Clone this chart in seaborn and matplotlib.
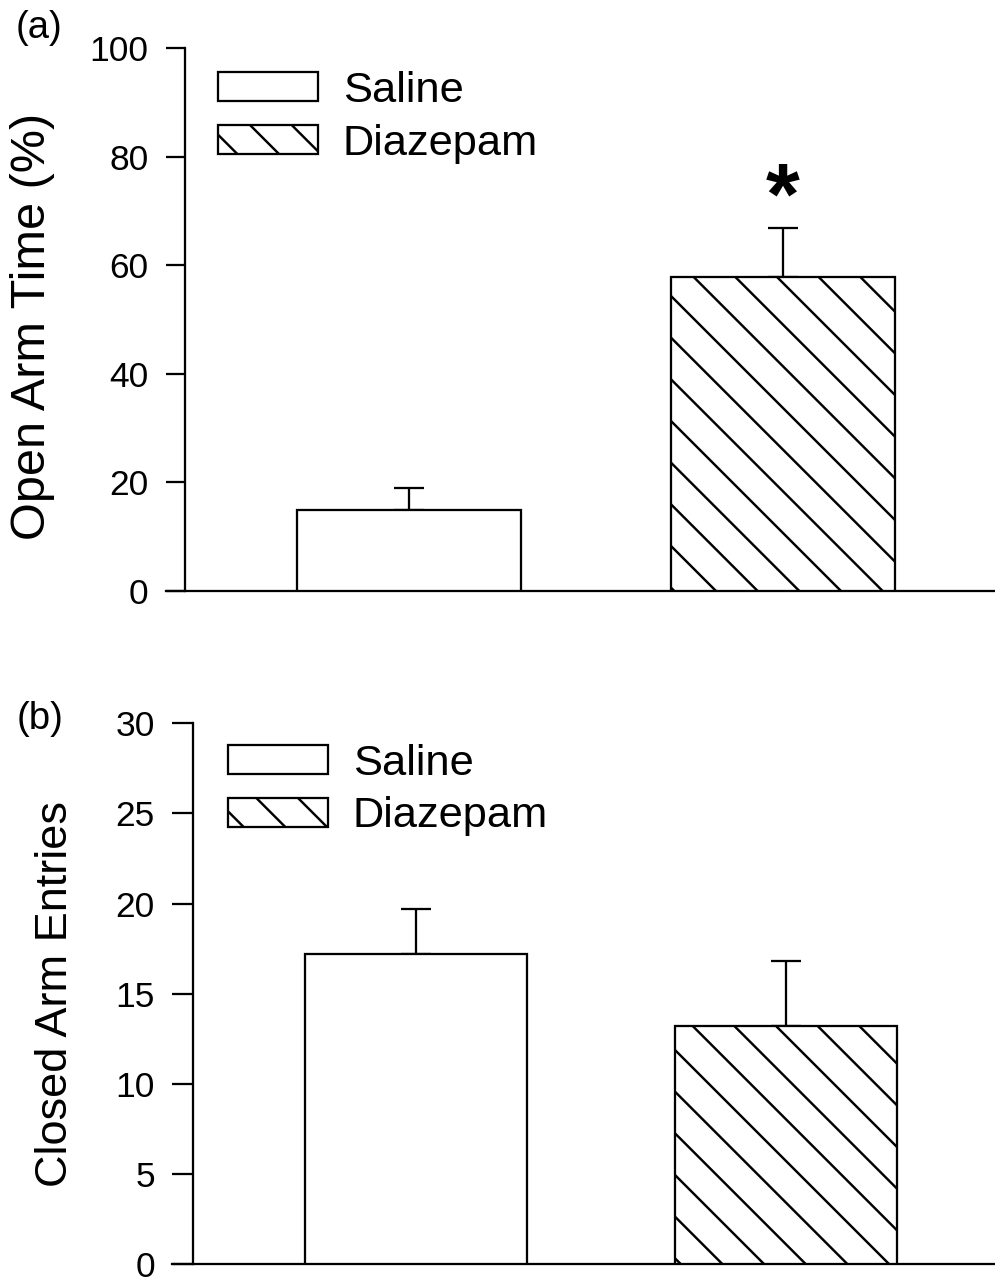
import matplotlib
matplotlib.use("Agg")
import matplotlib.pyplot as plt
from matplotlib.patches import Patch
import seaborn as sns
import pandas as pd

# ---- data ----
groups = ["Saline", "Diazepam"]
open_arm_time = [15.0, 57.9]
open_arm_time_sem = [4.0, 9.0]
closed_arm_entries = [17.2, 13.2]
closed_arm_entries_sem = [2.5, 3.6]
star_y = 67.8

HATCH = "\\\\"  # two backslashes -> 45 degree lines, ~41 px apart at 250 dpi

sns.set_theme(style="white")
plt.rcParams['font.family'] = ['Liberation Sans', 'DejaVu Sans']
plt.rcParams['hatch.linewidth'] = 0.7
plt.rcParams['hatch.color'] = 'black'

DPI = 250
fig = plt.figure(figsize=(995 / DPI, 1282 / DPI), dpi=DPI)
LW = 0.65


def panel(ax, values, errs, ylim, yticks, ylabel, xlim, spine_pos, label_coords,
          leg_anchor, tick_len, ylab_size):
    df = pd.DataFrame({"group": groups, "value": values})
    sns.barplot(data=df, x="group", y="value", hue="group",
                palette={g: "white" for g in groups}, edgecolor="black",
                linewidth=LW, width=0.6, errorbar=None, legend=False, ax=ax,
                order=groups, hue_order=groups)
    for p in ax.patches:
        p.set_zorder(3)
        if p.get_x() + p.get_width() / 2 > 0.5:
            p.set_hatch(HATCH)
    ax.errorbar(x=[0, 1], y=values, yerr=[[0, 0], errs], fmt="none",
                ecolor="black", elinewidth=LW, capsize=4.2, capthick=LW, zorder=2)
    ax.set_xlim(*xlim)
    ax.set_ylim(*ylim)
    ax.set_yticks(yticks)
    ax.set_xticks([])
    ax.set_xlabel("")
    ax.set_ylabel(ylabel, fontsize=ylab_size, color="black")
    ax.yaxis.set_label_coords(*label_coords)
    for s in ["top", "right"]:
        ax.spines[s].set_visible(False)
    ax.spines["left"].set_position(("axes", spine_pos))
    for s in ["left", "bottom"]:
        ax.spines[s].set_color("black")
        ax.spines[s].set_linewidth(LW)
    ax.tick_params(axis="y", direction="out", length=tick_len, width=LW,
                   pad=5, labelsize=10.2, colors="black", left=True)
    handles = [Patch(facecolor="white", edgecolor="black", linewidth=LW, label=groups[0]),
               Patch(facecolor="white", edgecolor="black", linewidth=LW, hatch=HATCH, label=groups[1])]
    ax.legend(handles=handles, loc="upper left", bbox_to_anchor=leg_anchor,
              frameon=False, fontsize=12.5, handlelength=2.3, handleheight=0.645,
              handletextpad=0.58, labelspacing=0.29, borderpad=0, borderaxespad=0,
              labelcolor="black")
    ax.set_facecolor("white")


ax1 = fig.add_axes([0.1668, 0.5390, 0.8332, 0.4233])
panel(ax1, open_arm_time, open_arm_time_sem, (0, 100), [0, 20, 40, 60, 80, 100],
      "Open Arm Time (%)", (-0.652, 1.568), 0.0229, (-0.134, 0.488),
      (0.0627, 0.958), 5.5, 14)
ax1.text(1, star_y, "*", ha="center", va="baseline", fontsize=25,
         fontweight="bold", color="black")

ax2 = fig.add_axes([0.1729, 0.01404, 0.8271, 0.4218])
panel(ax2, closed_arm_entries, closed_arm_entries_sem, (0, 30), [0, 5, 10, 15, 20, 25, 30],
      "Closed Arm Entries", (-0.658, 1.565), 0.0255, (-0.117, 0.50),
      (0.068, 0.962), 6, 13)

fig.text(0.039, 0.978, "(a)", ha="center", va="center", fontsize=11, color="black")
fig.text(0.0402, 0.439, "(b)", ha="center", va="center", fontsize=11, color="black")

fig.savefig("out.png", dpi=DPI, facecolor="white")
